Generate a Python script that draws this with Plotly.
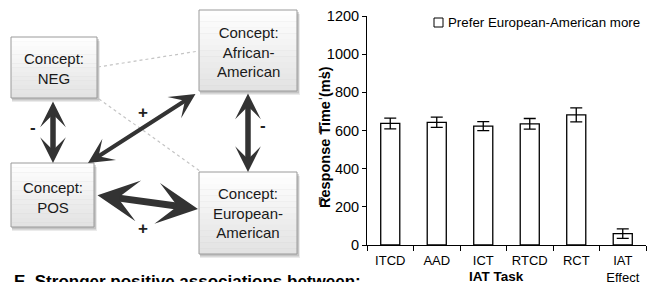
import plotly.graph_objects as go

# ---------------- data ----------------
tasks = ["ITCD", "AAD", "ICT", "RTCD", "RCT", "IAT<br>Effect"]
response_ms = [637, 643, 623, 635, 682, 60]
error_ms = [28, 27, 24, 28, 37, 25]
series_name = "Prefer European-American more"
y_ticks = [0, 200, 400, 600, 800, 1000, 1200]

# diagram concepts (labels)
concepts = {
    "NEG": "Concept:<br>NEG",
    "AA": "Concept:<br>African-<br>American",
    "POS": "Concept:<br>POS",
    "EA": "Concept:<br>European-<br>American",
}

W, H = 650, 282
FONT = "Liberation Sans, Arial, Helvetica, sans-serif"

fig = go.Figure()

# ---------------- bar chart ----------------
fig.add_trace(go.Bar(
    x=tasks, y=response_ms, name=series_name,
    width=0.41,
    marker=dict(color="white", line=dict(color="black", width=1.3)),
    error_y=dict(type="data", array=error_ms, color="black", thickness=1.3, width=6),
    showlegend=False,
    xaxis="x", yaxis="y",
))

x_dom = [367 / W, 646 / W]
y_dom = [(H - 245) / H, (H - 16) / H]

fig.update_layout(
    width=W, height=H,
    margin=dict(l=0, r=0, t=0, b=0, autoexpand=False),
    paper_bgcolor="white", plot_bgcolor="white",
    font=dict(family=FONT, color="black", size=13),
    xaxis=dict(domain=x_dom, anchor="y", type="category",
               showline=True, linecolor="black", linewidth=1,
               ticks="outside", ticklen=5, tickcolor="black", tickson="boundaries",
               tickfont=dict(size=13), showgrid=False, zeroline=False,
               range=[-0.5, 5.5], automargin=False, ticklabelstandoff=3),
    yaxis=dict(domain=y_dom, anchor="x", range=[0, 1200],
               tickvals=y_ticks, showline=True, linecolor="black", linewidth=1,
               ticks="outside", ticklen=4, tickcolor="black",
               tickfont=dict(size=14.5), showgrid=False, zeroline=False, automargin=False),
    xaxis2=dict(domain=[0, 320 / W], range=[0, 320], anchor="y2", visible=False,
                showgrid=False, zeroline=False),
    yaxis2=dict(domain=[0, 1], range=[H, 0], anchor="x2", visible=False,
                showgrid=False, zeroline=False),
    showlegend=False,
    bargap=0.59,
)

annotations = []
shapes = []

# legend (drawn manually: swatch + label)
shapes.append(dict(type="rect", xref="paper", yref="paper",
                   x0=434 / W, x1=443 / W, y0=1 - 27 / H, y1=1 - 18 / H,
                   fillcolor="white", line=dict(color="black", width=1)))
annotations.append(dict(text=series_name, xref="paper", yref="paper",
                        x=445.5 / W, y=1 - 22.5 / H, xanchor="left", yanchor="middle",
                        showarrow=False, font=dict(size=13.3)))

# axis titles
annotations.append(dict(text="<b>Response Time (ms)</b>", xref="paper", yref="paper",
                        x=325 / W, y=1 - 137 / H, textangle=-90, showarrow=False,
                        xanchor="center", yanchor="middle", font=dict(size=14.5)))
annotations.append(dict(text="<b>IAT Task</b>", xref="paper", yref="paper",
                        x=496 / W, y=1 - 276 / H, showarrow=False,
                        xanchor="center", yanchor="middle", font=dict(size=13.5)))

# ---------------- diagram ----------------
boxes = {
    "NEG": (11, 37, 97, 98),
    "AA": (199, 10, 297, 91),
    "POS": (11, 163, 94, 227),
    "EA": (199, 172, 297, 254),
}
text_y = {"NEG": 68, "AA": 51.5, "POS": 197, "EA": 213}

n_bands = 14
top_c, bot_c = 255, 226
for key, (x0, y0, x1, y1) in boxes.items():
    # soft shadow
    shapes.append(dict(type="rect", xref="x2", yref="y2", x0=x0 + 1, x1=x1 + 3, y0=y0 + 4, y1=y1 + 4,
                       fillcolor="rgba(0,0,0,0.08)", line=dict(width=0)))
    shapes.append(dict(type="rect", xref="x2", yref="y2", x0=x0 + 1, x1=x1 + 2, y0=y0 + 2, y1=y1 + 2.5,
                       fillcolor="rgba(0,0,0,0.16)", line=dict(width=0)))
    # vertical gradient fill
    for i in range(n_bands):
        c = round(top_c + (bot_c - top_c) * (i + 0.5) / n_bands)
        ya = y0 + (y1 - y0) * i / n_bands
        yb = y0 + (y1 - y0) * (i + 1) / n_bands + 0.3
        shapes.append(dict(type="rect", xref="x2", yref="y2", x0=x0, x1=x1, y0=ya, y1=min(yb, y1),
                           fillcolor=f"rgb({c},{c},{c})", line=dict(width=0)))
    shapes.append(dict(type="rect", xref="x2", yref="y2", x0=x0, x1=x1, y0=y0, y1=y1,
                       fillcolor="rgba(0,0,0,0)", line=dict(color="#9a9a9a", width=1)))
    annotations.append(dict(text=concepts[key], xref="x2", yref="y2",
                            x=(x0 + x1) / 2, y=text_y[key], showarrow=False,
                            font=dict(size=15, color="#1a1a1a")))

# dotted connectors
for (xa, ya, xb, yb) in [(98, 67, 199, 51), (99, 99, 200, 171)]:
    shapes.append(dict(type="line", xref="x2", yref="y2", x0=xa, y0=ya, x1=xb, y1=yb,
                       line=dict(color="#c4c4c4", width=1.2, dash="dot")))

# double-headed arrows: (tip1, tip2, width, size)
arrows = [
    ((53, 100), (53, 163), 5.5, 0.78),
    ((248, 92), (248, 172), 5.5, 0.78),
    ((197, 93), (88, 163), 4, 1.05),
    ((96, 195), (198, 209), 7, 0.98),
]
for (ax, ay), (x, y), w, s in arrows:
    annotations.append(dict(text="", xref="x2", yref="y2", axref="x2", ayref="y2",
                            x=x, y=y, ax=ax, ay=ay, showarrow=True,
                            arrowside="end+start", arrowhead=3, startarrowhead=3,
                            arrowsize=s, startarrowsize=s, arrowwidth=w,
                            arrowcolor="#333333"))

for sym, (x, y) in [("-", (33, 127)), ("-", (263, 125)), ("+", (143, 112)), ("+", (143, 228))]:
    annotations.append(dict(text="<b>" + sym + "</b>", xref="x2", yref="y2", x=x, y=y,
                            showarrow=False, font=dict(size=17, color="#222222")))

# stray text fragments at the right edge of the diagram
for sym, y in [("-", 76), ("-", 98), ("i", 128), ("r", 200)]:
    annotations.append(dict(text=sym, xref="x2", yref="y2", x=316, y=y, xanchor="left",
                            showarrow=False, font=dict(size=14, color="#333333")))

# caption at the bottom
annotations.append(dict(text="<b>E  Stronger positive associations between:</b>",
                        xref="paper", yref="paper", x=12 / W, y=1 - 270 / H,
                        xanchor="left", yanchor="top", showarrow=False,
                        font=dict(size=17, color="black")))

fig.update_layout(annotations=annotations, shapes=shapes)
fig.write_html("out.html", config={"displayModeBar": False},
               post_script="document.body.style.margin='0px';")
